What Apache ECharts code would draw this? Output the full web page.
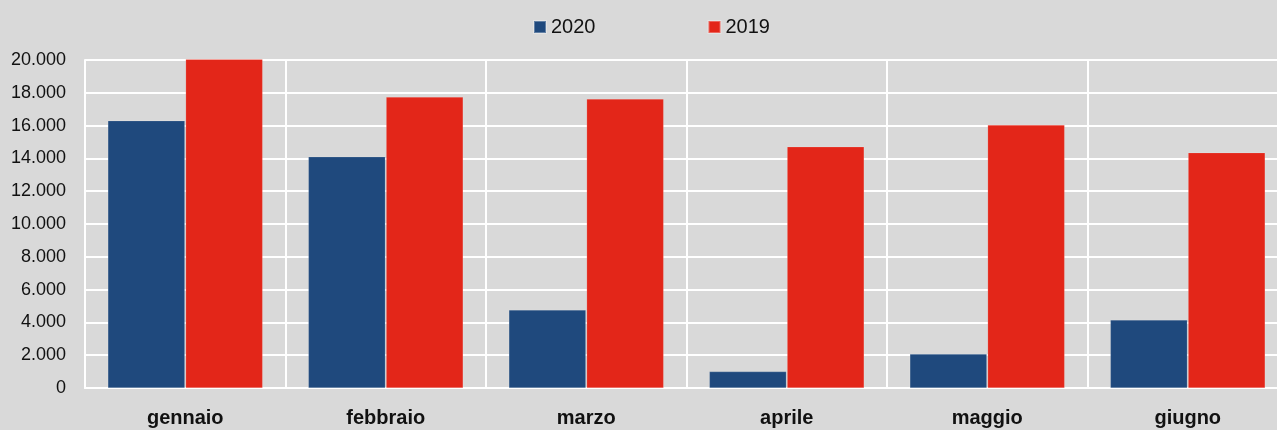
<!DOCTYPE html>
<html>
<head>
<meta charset="utf-8">
<script src="https://cdn.jsdelivr.net/npm/echarts@6/dist/echarts.min.js"></script>
<style>
  html, body { margin: 0; padding: 0; background: #d9d9d9; overflow: hidden; }
  #chart { width: 1288px; height: 430px; }
</style>
</head>
<body>
<div id="chart"></div>
<script>
var months = ['gennaio', 'febbraio', 'marzo', 'aprile', 'maggio', 'giugno'];
var values2020 = [16300, 14100, 4760, 1000, 2070, 4150];
var values2019 = [20050, 17740, 17620, 14710, 16040, 14350];
var yTicks = [0, 2000, 4000, 6000, 8000, 10000, 12000, 14000, 16000, 18000, 20000];

var font = "'Liberation Sans', Arial, sans-serif";

var myChart = echarts.init(document.getElementById('chart'));
var option = {
    backgroundColor: '#d9d9d9',
    animation: false,
    textStyle: { fontFamily: font },
    legend: {
        left: 533,
        top: 12,
        padding: [5, 0, 5, 0],
        itemWidth: 12,
        itemHeight: 12,
        itemGap: 112,
        icon: 'rect',
        textStyle: { fontSize: 20, color: '#111', fontFamily: font },
        data: ['2020', '2019']
    },
    grid: { left: 85, right: 0, top: 60, bottom: 42, containLabel: false },
    xAxis: {
        type: 'category',
        data: months,
        axisTick: { show: false },
        axisLine: { show: true, lineStyle: { color: '#ffffff', width: 2 } },
        axisLabel: { fontSize: 20, fontWeight: 'bold', color: '#111', margin: 20, fontFamily: font },
        splitLine: { show: true, lineStyle: { color: '#ffffff', width: 2 } }
    },
    yAxis: {
        type: 'value',
        min: yTicks[0],
        max: yTicks[yTicks.length - 1],
        interval: 2000,
        axisLine: { show: true, lineStyle: { color: '#ffffff', width: 2 } },
        axisTick: { show: false },
        axisLabel: {
            fontSize: 18,
            color: '#111',
            margin: 19,
            fontFamily: font,
            formatter: function (v) { return v.toLocaleString('it-IT').replace(/,/g, '.'); }
        },
        splitLine: { show: true, lineStyle: { color: '#ffffff', width: 2 } }
    },
    series: [{
        name: '2020',
        type: 'bar',
        data: values2020,
        barWidth: 77,
        barGap: '1%',
        clip: false,
        itemStyle: { color: '#1f497d', borderColor: 'rgba(255,255,255,0.3)', borderWidth: 0.5 }
    }, {
        name: '2019',
        type: 'bar',
        data: values2019,
        barWidth: 77,
        clip: false,
        itemStyle: { color: '#e32619', borderColor: 'rgba(255,255,255,0.3)', borderWidth: 0.5 }
    }]
};
myChart.setOption(option);
</script>
</body>
</html>
